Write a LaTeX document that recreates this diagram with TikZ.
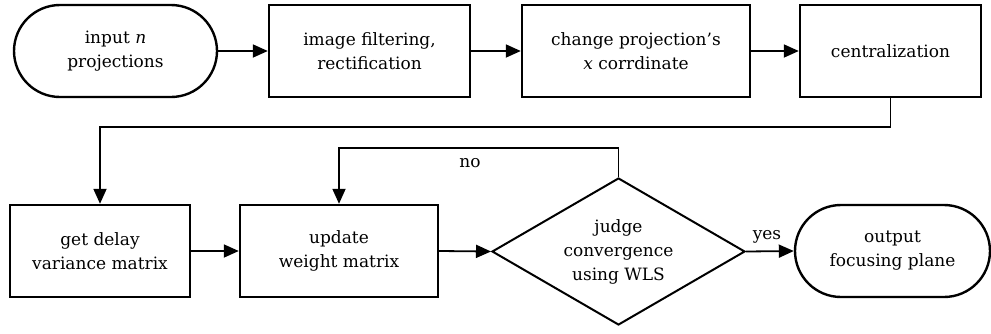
\documentclass[tikz,border=0pt]{standalone}
\usepackage{fontspec}
\setmainfont{DejaVu Serif}
\usetikzlibrary{shapes.geometric,arrows.meta}

\begin{document}
\begin{tikzpicture}[x=1pt,y=-1pt,
    font=\fontsize{17}{24}\selectfont,
    proc/.style={rectangle,draw,line width=2.4pt,align=center,minimum height=92pt,inner sep=2pt},
    term/.style={proc,rounded corners=46pt},
    judgebox/.style={diamond,draw,line width=2pt,align=center,aspect=1.72,minimum width=253pt,minimum height=147pt,inner sep=0pt},
    flow/.style={line width=1.8pt,-{Triangle[length=15pt,width=13pt]}}]
  \useasboundingbox (0,0) rectangle (991,333);

  % Top row: preprocessing of the projections
  \node[term,minimum width=203pt] (input) at (115.5,51) {input \textit{n}\\projections};
  \node[proc,minimum width=201pt] (filter) at (369.5,51) {image filtering,\\rectification};
  \node[proc,minimum width=228pt] (shift) at (636,51) {change projection's\\\textit{x} corrdinate};
  \node[proc,minimum width=181pt] (centre) at (890.5,51) {centralization};

  % Bottom row: iterative weighting
  \node[proc,minimum width=180pt] (delay) at (100,251) {get delay\\variance matrix};
  \node[proc,minimum width=198pt] (weight) at (339,251) {update\\weight matrix};
  \node[judgebox] (judge) at (618.5,251.5) {judge\\convergence\\using WLS};
  \node[term,minimum width=195pt] (output) at (892.5,251) {output\\focusing plane};

  % Turning points of the long connectors
  \coordinate (wrap) at (0,127);
  \coordinate (loop) at (0,148);

  % Straight arrows
  \foreach \a/\b in {input/filter,filter/shift,shift/centre,delay/weight} {
    \draw[flow] (\a) -- (\b);
  }
  \draw[flow] (weight.east) -- (judge.west);

  % From the top row down to the bottom row
  \draw[flow] (centre.south) |- (delay.north |- wrap) -- (delay.north);

  % Loop back when not converged
  \draw[flow] (judge.north) -- (judge.north |- loop) -| (weight.north);
  \node (noLbl) at (470,163) {no};

  % Converged
  \draw[flow] (judge.east) -- (output.west);
  \node (yesLbl) at (767,237) {yes};
\end{tikzpicture}
\end{document}
